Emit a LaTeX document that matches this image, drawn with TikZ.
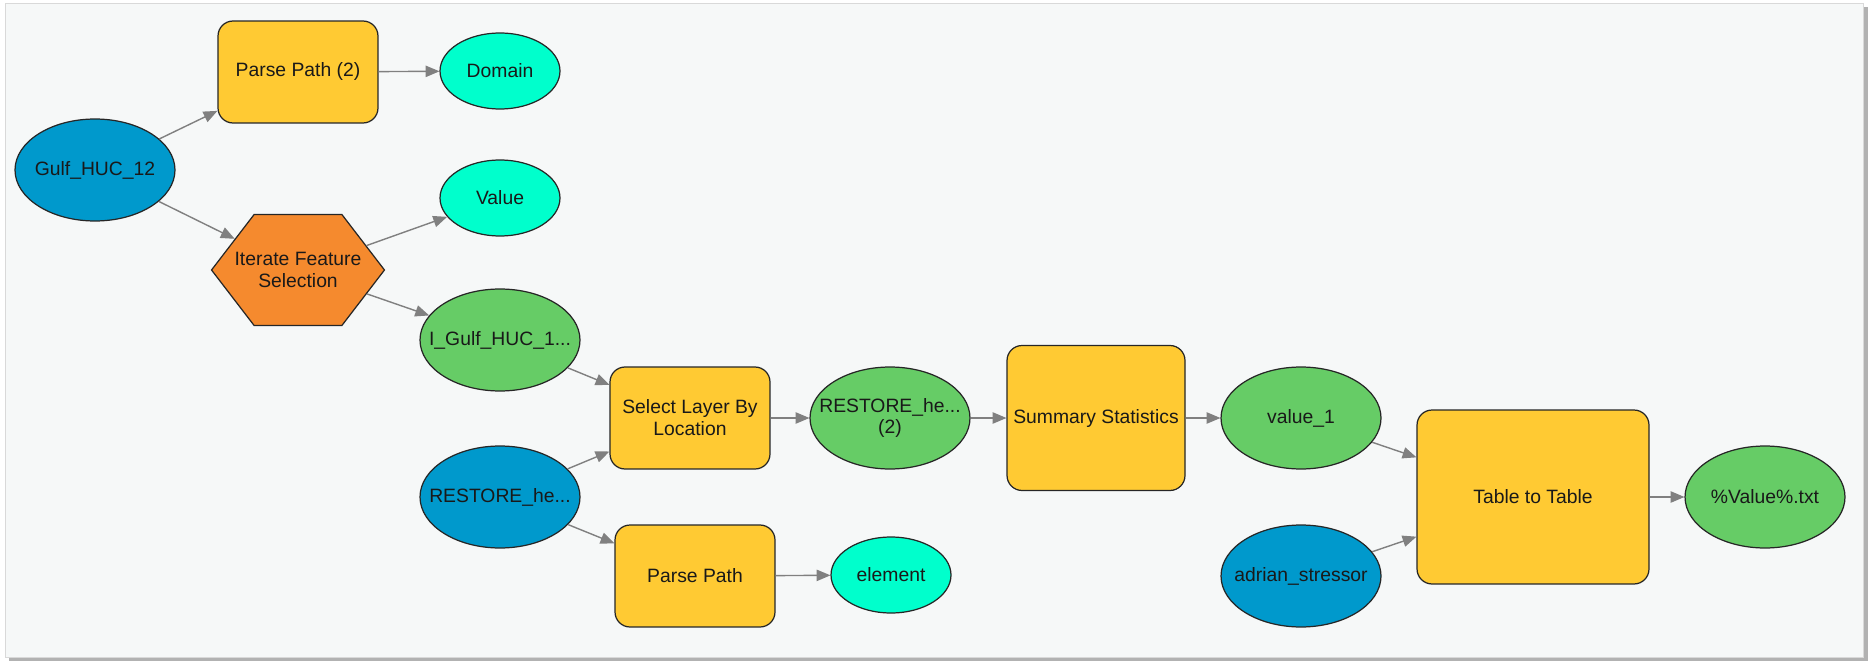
\documentclass[tikz,border=0pt]{standalone}
\usepackage{fontspec}
\setmainfont{Liberation Sans}
\usetikzlibrary{arrows,shapes}
\definecolor{toolyellow}{HTML}{FFCA33}
\definecolor{inputblue}{HTML}{0099CC}
\definecolor{derivedgreen}{HTML}{66CC66}
\definecolor{varcyan}{HTML}{00FFCC}
\definecolor{iterorange}{HTML}{F58A2E}
\definecolor{panelgray}{HTML}{F6F8F8}
\definecolor{edgegray}{HTML}{808080}

\begin{document}
\begin{tikzpicture}[x=0.02cm,y=-0.02cm,
        every text node part/.style={align=center},
        every node/.style={font=\fontsize{11}{12.5}\selectfont,text=black!90,draw=black!85,line width=0.7pt,inner sep=0pt},
        tool/.style={rectangle,rounded corners=0.3cm,fill=toolyellow,minimum width=3.2cm,minimum height=2.04cm},
        oval/.style={ellipse,inner xsep=-1cm,inner ysep=-0.6cm},
        inputdata/.style={oval,fill=inputblue,minimum width=3.2cm,minimum height=2.04cm},
        derived/.style={oval,fill=derivedgreen,minimum width=3.2cm,minimum height=2.04cm},
        paramvar/.style={oval,fill=varcyan,minimum width=2.4cm,minimum height=1.52cm},
        iterator/.style={signal,signal to=east and west,signal pointer angle=105,inner xsep=-0.39cm,fill=iterorange,minimum height=2.22cm},
        link/.style={-triangle 45,draw=edgegray,line width=0.8pt}]
        \useasboundingbox (0,0) rectangle (1871,662);
        \fill[black!30] (9,7) rectangle (1868,661);
        \fill[panelgray,draw=black!15] (5,3) rectangle (1863,657);

        \node[inputdata] (gulf) at (95,170) {Gulf\_HUC\_12};
        \node[tool] (parsetwo) at (298,72) {Parse Path (2)};
        \node[paramvar] (domain) at (500,71) {Domain};
        \node[iterator] (iterate) at (298,270) {Iterate Feature\\Selection};
        \node[paramvar] (value) at (500,198) {Value};
        \node[derived] (igulf) at (500,340) {I\_Gulf\_HUC\_1...};
        \node[inputdata] (restore) at (500,497) {RESTORE\_he...};
        \node[tool] (select) at (690,418) {Select Layer By\\Location};
        \node[tool] (parse) at (695,576) {Parse Path};
        \node[paramvar] (element) at (891,575) {element};
        \node[derived] (restoretwo) at (890,418) {RESTORE\_he...\\(2)};
        \node[tool,minimum width=3.56cm,minimum height=2.9cm] (summary) at (1096,418) {Summary Statistics};
        \node[derived] (valueone) at (1301,418) {value\_1};
        \node[inputdata] (adrian) at (1301,576) {adrian\_stressor};
        \node[tool,minimum width=4.64cm,minimum height=3.48cm] (table) at (1533,497) {Table to Table};
        \node[derived] (outtxt) at (1765,497) {\%Value\%.txt};

        \path[draw,link] (gulf) -- (parsetwo);
        \path[draw,link] (gulf) -- (iterate);
        \path[draw,link] (parsetwo) -- (domain);
        \path[draw,link] (iterate) -- (value);
        \path[draw,link] (iterate) -- (igulf);
        \path[draw,link] (igulf) -- (select);
        \path[draw,link] (restore) -- (select);
        \path[draw,link] (restore) -- (parse);
        \path[draw,link] (parse) -- (element);
        \path[draw,link] (select) -- (restoretwo);
        \path[draw,link] (restoretwo) -- (summary);
        \path[draw,link] (summary) -- (valueone);
        \path[draw,link] (valueone) -- (table);
        \path[draw,link] (adrian) -- (table);
        \path[draw,link] (table) -- (outtxt);
\end{tikzpicture}
\end{document}
